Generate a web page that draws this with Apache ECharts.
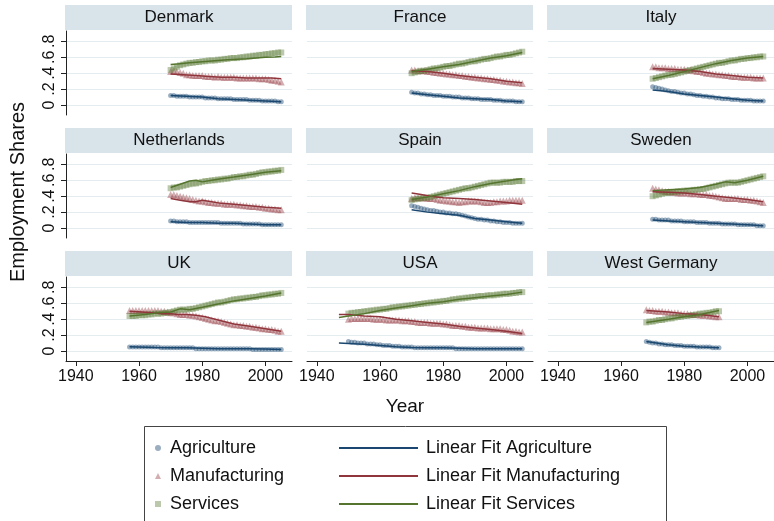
<!DOCTYPE html>
<html>
<head>
<meta charset="utf-8">
<script src="https://cdn.jsdelivr.net/npm/echarts@6/dist/echarts.min.js"></script>
<style>
  html, body { margin: 0; padding: 0; background: #ffffff; }
  #chart { width: 774px; height: 521px; }
</style>
</head>
<body>
<div id="chart"></div>
<script>
// Sector employment shares by country, with fitted trends.
const COUNTRIES = ['Denmark', 'France', 'Italy', 'Netherlands', 'Spain', 'Sweden', 'UK', 'USA', 'West Germany'];
const SECTORS = ['Agriculture', 'Manufacturing', 'Services'];
const FIT_NAMES = ['Linear Fit Agriculture', 'Linear Fit Manufacturing', 'Linear Fit Services'];
const X_TICKS = [1940, 1960, 1980, 2000];
const Y_TICKS = [0, 0.2, 0.4, 0.6, 0.8];
const FIRST_YEAR = [1970, 1970, 1970, 1970, 1970, 1970, 1957, 1950, 1968];

// Denmark
const DK_AGR = [.12,.12,.11,.11,.11,.11,.10,.10,.10,.10,.10,.09,.09,.09,.09,.08,.08,.08,.08,.08,.07,.07,.07,.07,.07,.06,.06,.06,.06,.05,.05,.05,.05,.05,.04,.04];
const DK_MAN = [.42,.43,.42,.41,.40,.38,.38,.37,.37,.37,.37,.36,.36,.36,.35,.36,.35,.35,.35,.35,.35,.34,.34,.34,.34,.34,.34,.34,.33,.33,.33,.32,.31,.31,.30,.29];
const DK_SER = [.44,.46,.48,.50,.51,.52,.53,.53,.54,.54,.55,.55,.56,.56,.56,.57,.57,.58,.58,.59,.59,.59,.60,.60,.61,.61,.62,.62,.63,.63,.64,.64,.65,.65,.66,.66];
const DK_FIT_AGR = [[1970,.12],[1975,.11],[1980,.10],[1985,.08],[1990,.07],[1995,.06],[2000,.05],[2005,.04]];
const DK_FIT_MAN = [[1970,.39],[1974,.38],[1978,.37],[1982,.36],[1986,.35],[1990,.35],[1994,.34],[1998,.34],[2002,.34],[2005,.33]];
const DK_FIT_SER = [[1970,.51],[1973,.52],[1976,.53],[1979,.54],[1982,.55],[1985,.56],[1988,.57],[1991,.575],[1994,.58],[1997,.59],[2000,.60],[2003,.605],[2005,.61]];

// France
const FR_AGR = [.16,.15,.15,.14,.14,.13,.13,.12,.12,.12,.11,.11,.11,.10,.10,.10,.09,.09,.09,.08,.08,.08,.07,.07,.07,.07,.06,.06,.06,.05,.05,.05,.05,.04,.04,.04];
const FR_MAN = [.44,.44,.43,.43,.43,.42,.42,.41,.41,.40,.40,.39,.39,.38,.38,.37,.37,.36,.36,.35,.35,.34,.34,.33,.33,.32,.32,.31,.31,.30,.30,.29,.29,.28,.28,.27];
const FR_SER = [.40,.41,.42,.43,.43,.44,.45,.46,.46,.47,.48,.49,.49,.50,.51,.52,.52,.53,.54,.55,.55,.56,.57,.58,.58,.59,.60,.61,.61,.62,.63,.63,.64,.65,.66,.67];
const FR_FIT_AGR = [[1970,.15],[1975,.13],[1980,.11],[1985,.09],[1990,.08],[1995,.07],[2000,.05],[2005,.04]];
const FR_FIT_MAN = [[1970,.43],[1975,.42],[1980,.40],[1985,.37],[1990,.35],[1995,.33],[2000,.30],[2005,.28]];
const FR_FIT_SER = [[1970,.42],[1975,.45],[1980,.48],[1985,.51],[1990,.55],[1995,.59],[2000,.62],[2005,.66]];

// Italy
const IT_AGR = [.23,.22,.21,.20,.19,.18,.17,.17,.16,.15,.15,.14,.14,.13,.12,.12,.11,.11,.10,.10,.09,.09,.08,.08,.08,.07,.07,.07,.06,.06,.06,.06,.05,.05,.05,.05];
const IT_MAN = [.48,.48,.47,.47,.47,.46,.46,.46,.45,.45,.45,.44,.44,.43,.42,.42,.41,.40,.40,.39,.39,.38,.38,.37,.37,.36,.36,.36,.35,.35,.35,.35,.34,.34,.34,.34];
const IT_SER = [.33,.34,.35,.36,.37,.38,.38,.39,.40,.41,.42,.43,.44,.45,.46,.47,.48,.49,.50,.51,.52,.53,.53,.54,.55,.56,.56,.57,.58,.58,.59,.59,.60,.60,.61,.61];
const IT_FIT_AGR = [[1970,.19],[1975,.17],[1980,.14],[1985,.12],[1990,.10],[1995,.08],[2000,.06],[2005,.05]];
const IT_FIT_MAN = [[1970,.46],[1975,.45],[1980,.44],[1985,.42],[1990,.39],[1995,.37],[2000,.35],[2005,.34]];
const IT_FIT_SER = [[1970,.33],[1975,.37],[1980,.42],[1985,.47],[1990,.52],[1995,.56],[2000,.59],[2005,.61]];

// Netherlands
const NL_AGR = [.09,.09,.08,.08,.08,.08,.07,.07,.07,.07,.07,.07,.07,.07,.07,.07,.06,.06,.06,.06,.06,.06,.06,.05,.05,.05,.05,.05,.05,.04,.04,.04,.04,.04,.04,.04];
const NL_MAN = [.42,.42,.41,.40,.39,.38,.37,.36,.35,.34,.34,.33,.32,.32,.31,.31,.31,.30,.30,.30,.30,.29,.29,.28,.28,.27,.27,.27,.26,.26,.25,.25,.24,.24,.23,.23];
const NL_SER = [.50,.51,.51,.52,.53,.54,.55,.56,.56,.57,.58,.59,.59,.60,.60,.61,.61,.62,.62,.63,.64,.64,.65,.65,.66,.67,.67,.68,.69,.70,.70,.71,.71,.72,.72,.73];
const NL_FIT_AGR = [[1970,.08],[1975,.07],[1980,.07],[1985,.06],[1990,.06],[1995,.05],[2000,.04],[2005,.04]];
const NL_FIT_MAN = [[1970,.37],[1973,.35],[1976,.33],[1978,.33],[1980,.35],[1983,.33],[1986,.31],[1990,.30],[1995,.28],[2000,.26],[2005,.25]];
const NL_FIT_SER = [[1970,.51],[1973,.55],[1976,.59],[1978,.60],[1980,.58],[1983,.60],[1986,.62],[1990,.64],[1995,.67],[2000,.70],[2005,.72]];

// Spain
const ES_AGR = [.28,.27,.26,.25,.24,.23,.22,.22,.21,.20,.20,.19,.19,.18,.18,.17,.16,.15,.14,.13,.12,.11,.11,.10,.10,.09,.09,.08,.08,.07,.07,.07,.06,.06,.06,.06];
const ES_MAN = [.37,.38,.38,.38,.38,.37,.37,.37,.36,.35,.35,.34,.34,.33,.33,.32,.33,.33,.34,.34,.34,.34,.33,.32,.32,.32,.33,.33,.34,.34,.34,.35,.35,.35,.35,.35];
const ES_SER = [.35,.36,.37,.37,.38,.38,.39,.40,.41,.42,.43,.44,.45,.46,.47,.48,.49,.50,.50,.51,.52,.53,.54,.55,.56,.57,.57,.57,.57,.58,.58,.58,.58,.59,.59,.59];
const ES_FIT_AGR = [[1970,.23],[1975,.20],[1980,.18],[1985,.16],[1990,.12],[1995,.10],[2000,.08],[2005,.06]];
const ES_FIT_MAN = [[1970,.44],[1973,.42],[1976,.40],[1980,.38],[1985,.37],[1990,.36],[1995,.34],[2000,.32],[2005,.30]];
const ES_FIT_SER = [[1970,.36],[1975,.39],[1980,.43],[1985,.47],[1990,.52],[1995,.56],[2000,.59],[2003,.61],[2005,.62]];

// Sweden
const SE_AGR = [.11,.11,.10,.10,.10,.10,.09,.09,.09,.09,.08,.08,.08,.08,.07,.07,.07,.07,.06,.06,.06,.06,.05,.05,.05,.05,.05,.04,.04,.04,.04,.04,.04,.03,.03,.03];
const SE_MAN = [.50,.49,.48,.47,.46,.46,.45,.45,.44,.44,.44,.44,.43,.43,.43,.42,.42,.42,.41,.41,.40,.39,.38,.37,.37,.37,.37,.37,.36,.36,.36,.35,.35,.34,.33,.32];
const SE_SER = [.40,.41,.42,.43,.44,.44,.45,.45,.46,.46,.47,.47,.47,.48,.48,.49,.49,.50,.51,.52,.53,.54,.55,.56,.57,.57,.57,.57,.58,.59,.60,.61,.62,.63,.64,.65];
const SE_FIT_AGR = [[1970,.10],[1975,.09],[1980,.08],[1985,.07],[1990,.06],[1995,.05],[2000,.04],[2005,.03]];
const SE_FIT_MAN = [[1970,.455],[1975,.45],[1980,.44],[1985,.42],[1990,.40],[1995,.38],[2000,.36],[2005,.33]];
const SE_FIT_SER = [[1970,.47],[1975,.48],[1980,.49],[1985,.51],[1990,.55],[1993,.58],[1996,.57],[2000,.60],[2005,.65]];

// UK
const UK_AGR = [.05,.05,.05,.05,.05,.05,.05,.05,.05,.05,.04,.04,.04,.04,.04,.04,.04,.04,.04,.04,.04,.03,.03,.03,.03,.03,.03,.03,.03,.03,.03,.03,.03,.03,.03,.03,.03,.03,.03,.02,.02,.02,.02,.02,.02,.02,.02,.02,.02];
const UK_MAN = [.51,.51,.51,.51,.51,.51,.51,.51,.51,.51,.50,.50,.49,.48,.48,.47,.46,.46,.46,.45,.45,.44,.43,.42,.41,.40,.39,.38,.38,.37,.36,.35,.34,.33,.33,.32,.32,.31,.31,.30,.30,.29,.28,.28,.27,.27,.26,.25,.25];
const UK_SER = [.44,.44,.44,.45,.45,.45,.46,.46,.47,.47,.47,.48,.48,.49,.50,.51,.52,.52,.52,.53,.53,.54,.55,.56,.57,.58,.59,.60,.61,.61,.62,.63,.64,.65,.65,.66,.66,.67,.67,.68,.68,.69,.70,.70,.71,.71,.72,.72,.73];
const UK_FIT_AGR = [[1957,.055],[1965,.045],[1970,.04],[1975,.04],[1980,.035],[1985,.03],[1990,.03],[1995,.03],[2000,.025],[2005,.02]];
const UK_FIT_MAN = [[1957,.50],[1961,.49],[1964,.48],[1967,.47],[1970,.47],[1972,.46],[1975,.46],[1978,.45],[1981,.43],[1985,.39],[1990,.34],[1995,.31],[2000,.28],[2005,.25]];
const UK_FIT_SER = [[1957,.44],[1962,.46],[1966,.48],[1970,.49],[1973,.53],[1976,.52],[1980,.55],[1985,.59],[1990,.63],[1995,.66],[2000,.69],[2005,.73]];

// USA
const US_AGR = [.12,.11,.11,.10,.10,.10,.09,.09,.09,.08,.08,.07,.07,.07,.06,.06,.06,.05,.05,.05,.05,.04,.04,.04,.04,.04,.04,.04,.04,.04,.04,.04,.04,.04,.03,.03,.03,.03,.03,.03,.03,.03,.03,.03,.03,.03,.03,.03,.03,.03,.03,.03,.03,.03,.03,.03];
const US_MAN = [.40,.41,.41,.41,.41,.41,.41,.41,.40,.40,.40,.40,.39,.39,.39,.39,.39,.38,.38,.38,.37,.37,.36,.36,.36,.36,.35,.35,.35,.35,.34,.34,.33,.32,.32,.32,.31,.31,.30,.30,.30,.29,.29,.29,.29,.28,.28,.28,.28,.27,.27,.26,.25,.25,.24,.24];
const US_SER = [.47,.48,.48,.49,.49,.50,.50,.51,.51,.52,.52,.53,.53,.54,.55,.55,.56,.56,.57,.57,.58,.58,.59,.59,.60,.60,.61,.61,.62,.62,.63,.63,.64,.65,.65,.66,.66,.67,.67,.68,.68,.69,.69,.69,.70,.70,.70,.71,.71,.72,.72,.72,.73,.73,.74,.74];
const US_FIT_AGR = [[1947,.10],[1950,.095],[1955,.085],[1960,.07],[1965,.055],[1970,.045],[1975,.04],[1980,.04],[1985,.035],[1990,.03],[1995,.03],[2000,.03],[2005,.03]];
const US_FIT_MAN = [[1947,.46],[1950,.46],[1955,.44],[1960,.43],[1965,.40],[1970,.38],[1975,.36],[1980,.34],[1985,.31],[1990,.29],[1995,.27],[2000,.25],[2005,.22]];
const US_FIT_SER = [[1947,.42],[1950,.44],[1955,.47],[1960,.51],[1965,.54],[1970,.57],[1975,.60],[1980,.62],[1985,.65],[1990,.67],[1995,.69],[2000,.71],[2005,.74]];

// West Germany
const WG_AGR = [.12,.11,.10,.10,.09,.09,.08,.08,.08,.07,.07,.07,.06,.06,.06,.06,.05,.05,.05,.05,.05,.04,.04,.04];
const WG_MAN = [.52,.51,.51,.50,.50,.50,.49,.49,.48,.48,.48,.47,.47,.47,.46,.46,.46,.45,.45,.45,.44,.44,.43,.43];
const WG_SER = [.36,.37,.37,.38,.39,.39,.40,.41,.41,.42,.43,.43,.44,.44,.45,.45,.46,.47,.47,.48,.48,.49,.50,.50];
const WG_FIT_AGR = [[1968,.12],[1975,.08],[1980,.06],[1985,.05],[1991,.04]];
const WG_FIT_MAN = [[1968,.51],[1975,.49],[1980,.47],[1985,.46],[1991,.43]];
const WG_FIT_SER = [[1968,.36],[1975,.40],[1980,.43],[1985,.46],[1991,.51]];

const SHARES = [
  [DK_AGR, DK_MAN, DK_SER], [FR_AGR, FR_MAN, FR_SER], [IT_AGR, IT_MAN, IT_SER],
  [NL_AGR, NL_MAN, NL_SER], [ES_AGR, ES_MAN, ES_SER], [SE_AGR, SE_MAN, SE_SER],
  [UK_AGR, UK_MAN, UK_SER], [US_AGR, US_MAN, US_SER], [WG_AGR, WG_MAN, WG_SER]
];
const FITS = [
  [DK_FIT_AGR, DK_FIT_MAN, DK_FIT_SER], [FR_FIT_AGR, FR_FIT_MAN, FR_FIT_SER], [IT_FIT_AGR, IT_FIT_MAN, IT_FIT_SER],
  [NL_FIT_AGR, NL_FIT_MAN, NL_FIT_SER], [ES_FIT_AGR, ES_FIT_MAN, ES_FIT_SER], [SE_FIT_AGR, SE_FIT_MAN, SE_FIT_SER],
  [UK_FIT_AGR, UK_FIT_MAN, UK_FIT_SER], [US_FIT_AGR, US_FIT_MAN, US_FIT_SER], [WG_FIT_AGR, WG_FIT_MAN, WG_FIT_SER]
];

// Styling
const FONT = 'Liberation Sans, Arial, Helvetica, sans-serif';
const LINE_COLORS = ['#1a476f', '#90353b', '#55752f'];
const MARK_COLORS = ['rgba(26,71,111,0.55)', 'rgba(144,53,59,0.5)', 'rgba(85,117,47,0.5)'];
const MARK_SHAPES = ['circle', 'triangle', 'rect'];
const MARK_SIZES = [5, 7, 6];
const COL_LEFT = [66, 307, 548];
const ROW_TOP = [31, 154, 277];
const PANEL_W = 226, PANEL_H = 84, STRIP_H = 25;
const X_MIN = 1936.9, X_MAX = 2008.4, Y_MIN = -0.125, Y_MAX = 0.93;

const grids = [], xAxes = [], yAxes = [], series = [], graphics = [];

COUNTRIES.forEach((name, i) => {
  const col = i % 3, row = Math.floor(i / 3);
  const left = COL_LEFT[col], top = ROW_TOP[row];
  grids.push({ left: left, top: top, width: PANEL_W, height: PANEL_H });
  const bottomRow = row === 2, firstCol = col === 0;
  xAxes.push({
    type: 'value', gridIndex: i, min: X_MIN, max: X_MAX,
    axisLine: { show: bottomRow, onZero: false, lineStyle: { color: '#222', width: 1 } },
    axisTick: { show: bottomRow, customValues: X_TICKS, length: 5, lineStyle: { color: '#222' } },
    axisLabel: {
      show: bottomRow, customValues: X_TICKS, fontFamily: FONT, fontSize: 16, color: '#111', margin: 8,
      formatter: v => String(Math.round(v))
    },
    splitLine: { show: false }
  });
  yAxes.push({
    type: 'value', gridIndex: i, min: Y_MIN, max: Y_MAX,
    axisLine: { show: firstCol, onZero: false, lineStyle: { color: '#222', width: 1 } },
    axisTick: { show: firstCol, customValues: Y_TICKS, length: 5, lineStyle: { color: '#222' } },
    axisLabel: {
      show: firstCol, customValues: Y_TICKS, rotate: 90, fontFamily: FONT, fontSize: 16, color: '#111', margin: 8,
      formatter: v => (v === 0 ? '0' : String(Math.round(v * 10) / 10).replace(/^0/, ''))
    },
    splitLine: { show: true, lineStyle: { color: '#e4ecef', width: 1.2 } }
  });
  // panel strip
  graphics.push({
    type: 'rect', shape: { x: left - 1, y: top - STRIP_H - 1, width: PANEL_W + 1, height: STRIP_H },
    style: { fill: '#d8e3ea' }, silent: true
  });
  graphics.push({
    type: 'text', x: left + PANEL_W / 2, y: top - STRIP_H / 2 - 1,
    style: { text: name, fontFamily: FONT, fontSize: 17, fill: '#111', align: 'center', verticalAlign: 'middle' },
    silent: true
  });
  SECTORS.forEach((sector, s) => {
    const first = FIRST_YEAR[i];
    series.push({
      name: sector, type: 'scatter', xAxisIndex: i, yAxisIndex: i,
      symbol: MARK_SHAPES[s], symbolSize: MARK_SIZES[s],
      itemStyle: { color: MARK_COLORS[s] },
      data: SHARES[i][s].map((v, k) => [first + k, v]),
      z: 2, silent: true
    });
  });
  SECTORS.forEach((sector, s) => {
    series.push({
      name: FIT_NAMES[s], type: 'line', xAxisIndex: i, yAxisIndex: i,
      symbol: 'none', showSymbol: false,
      lineStyle: { color: LINE_COLORS[s], width: 1.5 },
      itemStyle: { color: LINE_COLORS[s] },
      data: FITS[i][s],
      z: 3, silent: true
    });
  });
});

// axis titles
graphics.push({
  type: 'text', x: 18, y: 192, rotation: Math.PI / 2,
  style: { text: 'Employment Shares', fontFamily: FONT, fontSize: 20, fill: '#111', align: 'center', verticalAlign: 'middle' },
  silent: true
});
graphics.push({
  type: 'text', x: 405, y: 407,
  style: { text: 'Year', fontFamily: FONT, fontSize: 19, fill: '#111', align: 'center', verticalAlign: 'middle' },
  silent: true
});
// legend frame
graphics.push({
  type: 'rect', shape: { x: 144.5, y: 426.5, width: 522, height: 110 },
  style: { fill: '#fff', stroke: '#444', lineWidth: 1 }, z: -1, silent: true
});

const chart = echarts.init(document.getElementById('chart'), null, { renderer: 'canvas' });
chart.setOption({
  animation: false,
  backgroundColor: '#ffffff',
  grid: grids,
  xAxis: xAxes,
  yAxis: yAxes,
  series: series,
  graphic: graphics,
  legend: [
    {
      data: SECTORS, orient: 'vertical', left: 150, top: 434, itemWidth: 6, itemHeight: 6, itemGap: 10,
      selectedMode: false,
      textStyle: { fontFamily: FONT, fontSize: 18, color: '#111', padding: [0, 0, 0, 4] }
    },
    {
      data: FIT_NAMES.map(n => ({ name: n, icon: 'rect' })),
      orient: 'vertical', left: 334, top: 434, itemWidth: 79, itemHeight: 2, itemGap: 10,
      selectedMode: false,
      textStyle: { fontFamily: FONT, fontSize: 18, color: '#111', padding: [0, 0, 0, 3] }
    }
  ]
});
</script>
</body>
</html>
